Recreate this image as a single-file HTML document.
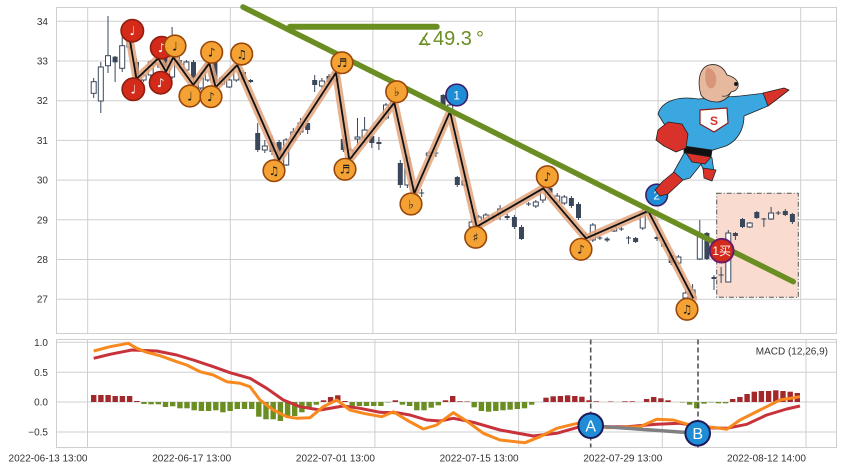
<!DOCTYPE html>
<html><head><meta charset="utf-8"><style>
html,body{margin:0;padding:0;background:#fff;}
svg{display:block;font-family:"Liberation Sans","DejaVu Sans","Noto Sans CJK SC",sans-serif;}
</style></head><body>
<svg width="844" height="471" viewBox="0 0 844 471" xmlns="http://www.w3.org/2000/svg">
<rect width="844" height="471" fill="#fff"/>
<!-- MAIN GRID -->
<g stroke="#cfcfcf" stroke-width="1" fill="none">
<path d="M56 21.3H837M56 61H837M56 100.7H837M56 140.4H837M56 180.1H837M56 219.8H837M56 259.5H837M56 299.2H837"/>
<path d="M87.7 7V333.3M230.3 7V333.3M372.9 7V333.3M515.5 7V333.3M658.1 7V333.3M800.7 7V333.3"/>
<rect x="56.5" y="7.5" width="780" height="326"/>
</g>
<!-- MACD GRID -->
<g stroke="#cfcfcf" stroke-width="1" fill="none">
<path d="M56 342.3H836.7M56 372.3H836.7M56 402H836.7M56 432H836.7"/>
<path d="M87.5 339.3V447.7M231.2 339.3V447.7M374.9 339.3V447.7M518.6 339.3V447.7M662.3 339.3V447.7M806 339.3V447.7"/>
<rect x="56.5" y="339.5" width="780" height="108"/>
</g>
<!-- Y labels -->
<g font-size="10" fill="#333" text-anchor="end">
<text x="48" y="24.8">34</text><text x="48" y="64.5">33</text><text x="48" y="104.2">32</text><text x="48" y="143.9">31</text><text x="48" y="183.6">30</text><text x="48" y="223.3">29</text><text x="48" y="263">28</text><text x="48" y="302.7">27</text>
<text x="48" y="345.8">1.0</text><text x="48" y="375.8">0.5</text><text x="48" y="405.5">0.0</text><text x="48" y="435.5">−0.5</text>
</g>
<!-- X labels -->
<g font-size="10" fill="#333" text-anchor="end">
<text x="87.5" y="461.5">2022-06-13 13:00</text><text x="231.2" y="461.5">2022-06-17 13:00</text><text x="374.9" y="461.5">2022-07-01 13:00</text><text x="518.6" y="461.5">2022-07-15 13:00</text><text x="662.3" y="461.5">2022-07-29 13:00</text><text x="806" y="461.5">2022-08-12 14:00</text>
</g>
<!-- pink rect -->
<rect x="716.7" y="193.3" width="81.6" height="104" fill="#f9dccf" stroke="#555" stroke-width="1" stroke-dasharray="5,2,1,2"/>
<!-- wicks -->
<path fill="none" stroke="#3a475b" stroke-width="1" d="M93.7 78V98 M100.8 62V113 M108 16V73 M115.1 56V82 M122.2 37V72 M129.4 40V50 M136.5 58V79 M143.6 72V82 M150.7 60V78 M157.9 58V68 M165 55V72 M172.1 27V79 M179.3 57V68 M186.4 60V72 M193.5 60V85 M200.7 72V90 M207.8 63V82 M214.9 60V87 M222 76V86 M229.2 75V88 M236.3 65V82 M243.4 70V82 M250.6 79V83 M257.7 123V152 M264.8 140V153 M272 135V155 M279.1 140V160 M286.2 138V166 M293.3 128V142 M300.5 118V135 M307.6 120V134 M314.7 75V92 M321.9 78V88 M329 74V84 M336.1 72V82 M343.3 135V152 M350.4 148V160 M357.5 118V145 M364.6 117V143 M371.8 133V148 M378.9 137V150 M386 103V120 M393.2 99V108 M400.3 160V188 M407.4 155V188 M414.6 186V195 M421.7 189V197 M428.8 151V157 M435.9 148V157 M443.1 94V110 M450.2 100V113 M457.3 176V187 M464.5 179V187 M471.6 220V229 M478.7 215V229 M485.9 213V222 M493 214V221 M500.1 205V220 M507.2 214V220 M514.4 215V229 M521.5 225V240 M528.6 202V206 M535.8 200V208 M542.9 188V203 M550 185V195 M557.2 193V204 M564.3 195V205 M571.4 196V208 M578.5 202V220 M585.7 232V238 M592.8 223V242 M599.9 236V240 M607.1 237V242 M614.2 226V232 M621.3 227V231 M628.5 236V244 M635.6 237V243 M642.7 207V230 M649.8 209V214 M657 235V241 M664.1 243V247 M671.2 253V265 M678.4 255V265 M685.5 290V300 M692.6 284V300 M699.8 220V260 M706.9 232V260 M714 275V290 M721.1 267V283 M728.3 230V282 M735.4 232V240 M742.5 218V228 M749.7 222V228 M756.8 211V219 M763.9 218V227 M771.1 207V220 M778.2 211V215 M785.3 209V216 M792.4 213V224"/>
<!-- hollow bodies -->
<g fill="#fff" stroke="#3a475b" stroke-width="1">
<rect x="91.2" y="81.7" width="5" height="11.6"/><rect x="98.3" y="67" width="5" height="34"/><rect x="105.5" y="55.7" width="5" height="10"/><rect x="119.7" y="45.7" width="5" height="22.6"/><rect x="126.9" y="42" width="5" height="5"/><rect x="141.1" y="75" width="5" height="5"/><rect x="148.2" y="62" width="5" height="13"/><rect x="155.4" y="58.3" width="5" height="5.7"/><rect x="169.6" y="57" width="5" height="20"/><rect x="183.9" y="62" width="5" height="8"/><rect x="198.2" y="78" width="5" height="10"/><rect x="205.3" y="64" width="5" height="16"/><rect x="219.5" y="78" width="5" height="6"/><rect x="226.7" y="80" width="5" height="7"/><rect x="233.8" y="67" width="5" height="13"/><rect x="262.3" y="146" width="5" height="4"/><rect x="283.7" y="140" width="5" height="25"/><rect x="290.8" y="132" width="5" height="8"/><rect x="298" y="123" width="5" height="9"/><rect x="319.4" y="81" width="5" height="5"/><rect x="333.6" y="73" width="5" height="7"/><rect x="347.9" y="150" width="5" height="8"/><rect x="355" y="137" width="5" height="2"/><rect x="362.1" y="130" width="5" height="8"/><rect x="383.5" y="105" width="5" height="13"/><rect x="390.7" y="100" width="5" height="6"/><rect x="404.9" y="158" width="5" height="27"/><rect x="412.1" y="190" width="5" height="3"/><rect x="426.3" y="153" width="5" height="2.5"/><rect x="447.7" y="105" width="5" height="6"/><rect x="462" y="181" width="5" height="4"/><rect x="469.1" y="222" width="5" height="5"/><rect x="476.2" y="217" width="5" height="10"/><rect x="483.4" y="215" width="5" height="5"/><rect x="497.6" y="209" width="5" height="4"/><rect x="533.3" y="202" width="5" height="4"/><rect x="540.4" y="190" width="5" height="10"/><rect x="554.7" y="196" width="5" height="6"/><rect x="561.8" y="197" width="5" height="6"/><rect x="590.3" y="225" width="5" height="15"/><rect x="611.7" y="227" width="5" height="4"/><rect x="640.2" y="212" width="5" height="16"/><rect x="647.3" y="211" width="5" height="2.5"/><rect x="661.6" y="244" width="5" height="2"/><rect x="675.9" y="257" width="5" height="6"/><rect x="683" y="293" width="5" height="5"/><rect x="690.1" y="290" width="5" height="8"/><rect x="697.3" y="237" width="5" height="22"/><rect x="725.8" y="233" width="5" height="49"/><rect x="747.2" y="223" width="5" height="4"/><rect x="768.6" y="213" width="5" height="6"/>
</g>
<!-- filled bodies -->
<g fill="#3a475b">
<rect x="112.6" y="56.7" width="5" height="5.6"/><rect x="134" y="62" width="5" height="15"/><rect x="162.5" y="58" width="5" height="9"/><rect x="176.8" y="60" width="5" height="5"/><rect x="191" y="62" width="5" height="16"/><rect x="212.4" y="62" width="5" height="21"/><rect x="240.9" y="72" width="5" height="8"/><rect x="248.1" y="80" width="5" height="2"/><rect x="255.2" y="133" width="5" height="17"/><rect x="269.5" y="142" width="5" height="10"/><rect x="276.6" y="142" width="5" height="15"/><rect x="305.1" y="123" width="5" height="7"/><rect x="312.2" y="80" width="5" height="5"/><rect x="326.5" y="76" width="5" height="6"/><rect x="340.8" y="139" width="5" height="11"/><rect x="369.3" y="136" width="5" height="7"/><rect x="376.4" y="142" width="5" height="2"/><rect x="397.8" y="163" width="5" height="22"/><rect x="440.6" y="95" width="5" height="13"/><rect x="454.8" y="177" width="5" height="8"/><rect x="504.7" y="216" width="5" height="2"/><rect x="511.9" y="217" width="5" height="10"/><rect x="519" y="227" width="5" height="12"/><rect x="547.5" y="188" width="5" height="5"/><rect x="568.9" y="198" width="5" height="8"/><rect x="576" y="204" width="5" height="14"/><rect x="604.6" y="238.5" width="5" height="2"/><rect x="633.1" y="238" width="5" height="4"/><rect x="654.5" y="237" width="5" height="2"/><rect x="668.7" y="255" width="5" height="8"/><rect x="704.4" y="233" width="5" height="26"/><rect x="711.5" y="277" width="5" height="2"/><rect x="732.9" y="233" width="5" height="3"/><rect x="740" y="219" width="5" height="8"/><rect x="754.3" y="212" width="5" height="6"/><rect x="782.8" y="211" width="5" height="4"/><rect x="789.9" y="214" width="5" height="8"/>
<rect x="419.2" y="192.5" width="5" height="1"/><rect x="433.4" y="152.5" width="5" height="1"/><rect x="490.5" y="217.5" width="5" height="1"/><rect x="526.1" y="203.5" width="5" height="1"/><rect x="583.2" y="234.5" width="5" height="1"/><rect x="597.4" y="237.5" width="5" height="1"/><rect x="618.8" y="228.5" width="5" height="1"/><rect x="626" y="237.5" width="5" height="1"/><rect x="718.6" y="274.5" width="5" height="1"/><rect x="761.4" y="218.5" width="5" height="1"/><rect x="775.7" y="212.5" width="5" height="1"/>
</g>
<!-- zigzag -->
<polyline fill="none" stroke="#e2a57c" stroke-opacity="0.85" stroke-width="8" stroke-linejoin="round" stroke-linecap="round" points="130,41 136.5,79 158.3,58.3 166,71.7 173.3,57.3 193.3,85 209.3,63.3 215.7,87.3 237.3,65 279,160 336,72.7 349.3,160 394.3,102.7 414.3,193.3 450,111.7 476.7,226.7 543.3,188.3 586,238.3 648.3,211 693.3,298.3"/>
<polyline fill="none" stroke="#111" stroke-width="1.8" stroke-linejoin="round" points="130,41 136.5,79 158.3,58.3 166,71.7 173.3,57.3 193.3,85 209.3,63.3 215.7,87.3 237.3,65 279,160 336,72.7 349.3,160 394.3,102.7 414.3,193.3 450,111.7 476.7,226.7 543.3,188.3 586,238.3 648.3,211 693.3,298.3"/>
<!-- green trend -->
<line x1="243" y1="7" x2="793.3" y2="281.7" stroke="#6b8e23" stroke-width="5.5" stroke-linecap="round"/>
<line x1="290" y1="26.7" x2="436.7" y2="26.7" stroke="#6b8e23" stroke-width="6" stroke-linecap="round"/>
<text y="45" font-size="20" fill="#6b8e23"><tspan x="417" font-family="DejaVu Sans,sans-serif" font-size="17">∡</tspan><tspan x="433">49.3</tspan><tspan x="476">°</tspan></text>
<!-- markers -->
<g stroke-width="1.6" font-family="DejaVu Sans,sans-serif" font-size="12" text-anchor="middle">
<g fill="#d42a1a" stroke="#8e1d10">
<circle cx="132.3" cy="30.7" r="11.2"/><circle cx="133.3" cy="89.3" r="11.2"/><circle cx="161.7" cy="47.7" r="11.2"/><circle cx="160.7" cy="82.7" r="11.2"/>
</g>
<g fill="#fff" stroke="none">
<text x="132.3" y="35">♩</text><text x="133.3" y="93.6">♩</text><text x="161.7" y="52">♪</text><text x="160.7" y="87">♪</text>
</g>
<g fill="#f5a234" stroke="#9a4609">
<circle cx="175" cy="46" r="10.8"/><circle cx="190" cy="96" r="10.8"/><circle cx="211.7" cy="52.3" r="10.8"/><circle cx="211" cy="96.7" r="10.8"/><circle cx="241.7" cy="54" r="10.8"/><circle cx="274" cy="170.7" r="10.8"/><circle cx="342" cy="62.7" r="10.8"/><circle cx="345" cy="169.3" r="10.8"/><circle cx="396.7" cy="91.7" r="10.8"/><circle cx="411" cy="204" r="10.8"/><circle cx="475.7" cy="237.3" r="10.8"/><circle cx="547.3" cy="176.7" r="10.8"/><circle cx="581" cy="249.3" r="10.8"/><circle cx="687" cy="309.3" r="10.8"/>
</g>
<g fill="#1a1a1a" stroke="none">
<text x="175" y="50.3">♩</text><text x="190" y="100.3">♩</text><text x="211.7" y="56.6">♪</text><text x="211" y="101">♪</text><text x="241.7" y="58.3">♫</text><text x="274" y="175">♫</text><text x="342" y="67">♬</text><text x="345" y="173.6">♬</text><text x="396.7" y="96">♭</text><text x="411" y="208.3">♭</text><text x="475.7" y="241.6">♯</text><text x="547.3" y="181">♪</text><text x="581" y="253.6">♪</text><text x="687" y="313.6">♫</text>
</g>
<g fill="#1f8dd6" stroke="#3b1e6e">
<circle cx="456.7" cy="95" r="10.8"/><circle cx="656.7" cy="195" r="10.8"/>
</g>
<g fill="#fff" stroke="none" font-family="Liberation Sans,sans-serif" font-size="12">
<text x="456.7" y="99.3">1</text><text x="656.7" y="199.3">2</text>
</g>
<circle cx="721.7" cy="250.7" r="11.8" fill="#d42a1a" stroke="#6a1b6a" stroke-width="2"/>
<text x="721.7" y="255.2" fill="#fff" stroke="none" font-family="Liberation Sans,Noto Sans CJK SC,sans-serif" font-size="12">1买</text>
</g>
<!-- dog -->
<g stroke="#222" stroke-width="0.8" stroke-linejoin="round">
<path d="M700 150 L712 158 L714 172 L706 176 L700 162 Z" fill="#3aa7e0"/>
<path d="M703 168 L716 170 L712 181 L704 178 Z" fill="#d8322a"/>
<path d="M686 150 L706 158 L690 178 L676 182 L672 175 Z" fill="#3aa7e0"/>
<path d="M674 172 L683 180 L668 194 L660 196 L655 190 L662 182 Z" fill="#d8322a"/>
<path d="M658 114 C662 100 680 96 698 99 L740 96 L766 93 L768 106 L744 116 C744 130 737 141 726 146 L710 151 L688 150 C676 142 666 128 658 114 Z" fill="#3aa7e0"/>
<path d="M684 146 L712 150 L711 157 L684 153 Z" fill="#111"/>
<path d="M686 153 L711 157 L705 164 L692 162 Z" fill="#d8322a"/>
<path d="M763 93 L784 88 L789 90 L776 100 L768 106 Z" fill="#d8322a"/>
<path d="M658 130 L668 122 L682 124 L688 134 L686 148 L676 152 L664 146 L656 140 Z" fill="#d8322a"/>
<path d="M701 95 C697 82 699 68 709 65 C718 63 724 68 727 75 C731 76 736 78 738 83 C739 88 736 91 731 92 C729 97 724 101 718 102 C711 102 704 100 701 95 Z" fill="#e6b89e"/>
<path d="M707 68 C713 68 717 74 716 82 C715 88 711 90 708 87 C705 83 704 74 707 68 Z" fill="#d9957a" stroke="none"/>
<circle cx="736" cy="84" r="1.6" fill="#111"/>
<path d="M722 96 C726 97 729 95 731 92" fill="none" stroke="#333" stroke-width="0.8"/>
<path d="M700 110 L727 108 L728 123 L714 132 L700 124 Z" fill="#fff" stroke="#8b1a1a" stroke-width="1.2"/>
<text x="714" y="125" font-size="12" font-weight="bold" fill="#d8322a" stroke="none" text-anchor="middle">S</text>
</g>
<!-- MACD bars red -->
<g fill="#a3282b">
<rect x="91.0" y="395" width="5.4" height="7"/><rect x="98.2" y="395" width="5.4" height="7"/><rect x="105.4" y="395" width="5.4" height="7"/><rect x="112.5" y="396" width="5.4" height="6"/><rect x="119.7" y="396" width="5.4" height="6"/><rect x="126.9" y="396" width="5.4" height="6"/><rect x="134.1" y="401" width="5.4" height="1"/><rect x="320.8" y="400.3" width="5.4" height="1.7"/><rect x="327.9" y="397" width="5.4" height="5"/><rect x="335.1" y="395.3" width="5.4" height="6.7"/><rect x="342.3" y="401" width="5.4" height="1"/><rect x="392.6" y="400.3" width="5.4" height="1.7"/><rect x="442.8" y="400.3" width="5.4" height="1.7"/><rect x="450.0" y="396" width="5.4" height="6"/><rect x="457.2" y="401.3" width="5.4" height="0.7"/><rect x="464.4" y="401.5" width="5.4" height="0.5"/><rect x="543.3" y="397.7" width="5.4" height="4.3"/><rect x="550.5" y="396.3" width="5.4" height="5.7"/><rect x="557.7" y="396" width="5.4" height="6"/><rect x="564.9" y="395.3" width="5.4" height="6.7"/><rect x="572.1" y="396" width="5.4" height="6"/><rect x="579.2" y="396.7" width="5.4" height="5.3"/><rect x="586.4" y="400.3" width="5.4" height="1.7"/><rect x="593.6" y="401.3" width="5.4" height="0.7"/><rect x="608.0" y="401.5" width="5.4" height="0.5"/><rect x="622.3" y="401.3" width="5.4" height="0.7"/><rect x="629.5" y="401.3" width="5.4" height="0.7"/><rect x="643.9" y="399" width="5.4" height="3"/><rect x="651.0" y="397" width="5.4" height="5"/><rect x="658.2" y="398.3" width="5.4" height="3.7"/><rect x="665.4" y="400.3" width="5.4" height="1.7"/><rect x="730.0" y="399" width="5.4" height="3"/><rect x="737.2" y="397" width="5.4" height="5"/><rect x="744.4" y="394" width="5.4" height="8"/><rect x="751.6" y="391.7" width="5.4" height="10.3"/><rect x="758.7" y="391" width="5.4" height="11"/><rect x="765.9" y="391" width="5.4" height="11"/><rect x="773.1" y="390.3" width="5.4" height="11.7"/><rect x="780.3" y="391" width="5.4" height="11"/><rect x="787.5" y="391.7" width="5.4" height="10.3"/><rect x="794.6" y="393" width="5.4" height="9"/>
</g>
<!-- MACD bars green -->
<g fill="#6b8e23">
<rect x="141.3" y="402" width="5.4" height="2"/><rect x="148.4" y="402" width="5.4" height="2.3"/><rect x="155.6" y="402" width="5.4" height="2.3"/><rect x="162.8" y="402" width="5.4" height="5"/><rect x="170.0" y="402" width="5.4" height="4.3"/><rect x="177.2" y="402" width="5.4" height="6.3"/><rect x="184.3" y="402" width="5.4" height="6.3"/><rect x="191.5" y="402" width="5.4" height="8.3"/><rect x="198.7" y="402" width="5.4" height="9"/><rect x="205.9" y="402" width="5.4" height="9"/><rect x="213.1" y="402" width="5.4" height="8.3"/><rect x="220.2" y="402" width="5.4" height="10.3"/><rect x="227.4" y="402" width="5.4" height="9"/><rect x="234.6" y="402" width="5.4" height="7"/><rect x="241.8" y="402" width="5.4" height="7"/><rect x="249.0" y="402" width="5.4" height="7"/><rect x="256.1" y="402" width="5.4" height="14.7"/><rect x="263.3" y="402" width="5.4" height="17.3"/><rect x="270.5" y="402" width="5.4" height="17.3"/><rect x="277.7" y="402" width="5.4" height="19"/><rect x="284.9" y="402" width="5.4" height="14.7"/><rect x="292.0" y="402" width="5.4" height="14"/><rect x="299.2" y="402" width="5.4" height="10.3"/><rect x="306.4" y="402" width="5.4" height="7"/><rect x="313.6" y="402" width="5.4" height="2.7"/><rect x="349.5" y="402" width="5.4" height="4"/><rect x="356.7" y="402" width="5.4" height="4"/><rect x="363.8" y="402" width="5.4" height="4"/><rect x="371.0" y="402" width="5.4" height="4"/><rect x="378.2" y="402" width="5.4" height="4"/><rect x="385.4" y="402" width="5.4" height="0.5"/><rect x="399.7" y="402" width="5.4" height="2.7"/><rect x="406.9" y="402" width="5.4" height="4"/><rect x="414.1" y="402" width="5.4" height="8.3"/><rect x="421.3" y="402" width="5.4" height="8.3"/><rect x="428.5" y="402" width="5.4" height="5.7"/><rect x="435.6" y="402" width="5.4" height="3.3"/><rect x="471.5" y="402" width="5.4" height="5.3"/><rect x="478.7" y="402" width="5.4" height="9"/><rect x="485.9" y="402" width="5.4" height="9.7"/><rect x="493.1" y="402" width="5.4" height="9"/><rect x="500.3" y="402" width="5.4" height="8.3"/><rect x="507.4" y="402" width="5.4" height="7.7"/><rect x="514.6" y="402" width="5.4" height="7"/><rect x="521.8" y="402" width="5.4" height="6.3"/><rect x="529.0" y="402" width="5.4" height="2.7"/><rect x="679.8" y="402" width="5.4" height="0.5"/><rect x="686.9" y="402" width="5.4" height="2.7"/><rect x="694.1" y="402" width="5.4" height="6.3"/><rect x="701.3" y="402" width="5.4" height="1.7"/><rect x="708.5" y="402" width="5.4" height="0.5"/><rect x="715.7" y="402" width="5.4" height="1.3"/><rect x="722.8" y="402" width="5.4" height="1.3"/>
</g>
<!-- MACD lines -->
<polyline fill="none" stroke="#c8323a" stroke-width="3" stroke-linejoin="round" points="93.7,358.3 110,354.3 131.7,350 156.7,351 176.7,355 193.3,360 213.3,366.7 230,372.7 250,378.3 266.7,388.3 283.3,400 300,406.7 320,410 343.3,406 360,408.3 380,412.3 396.7,412.7 410,415 426.7,420 440,421 453.3,418.3 473.3,422.3 500,430 533.3,436 556.7,433.3 580,426.7 626.7,426.7 656.7,424.3 680,423.3 706.7,427.7 726.7,428.3 746.7,424.3 766.7,415 786.7,409 800,406"/>
<polyline fill="none" stroke="#f7891f" stroke-width="3" stroke-linejoin="round" points="93.7,351 110,346.7 128.3,343.3 136.7,348.3 146.7,352.3 160,355.7 176.7,361.7 186.7,365 200,371.7 213.3,375 226.7,381.7 240,383.3 250,386.7 260,400 273.3,410 286.7,416.7 296.7,418.3 310,417.7 323.3,406.7 336.7,400 350,410 363.3,413.3 381.7,416.7 393.3,411.7 406.7,420 423.3,429 436.7,425 440,422.3 453.3,412.7 466.7,421 483.3,433.3 500,440 525,442.7 540,436.7 556.7,428.3 580,422.7 590,424 606.7,427.7 640,426.7 656.7,419.3 673.3,420 690,425 716.7,427.7 726.7,429.3 740,420 760,410 780,400 800,396.7"/>
<!-- dashed verticals -->
<g stroke="#555" stroke-width="1.6" stroke-dasharray="5,3">
<line x1="590.7" y1="339.5" x2="590.7" y2="447.5"/><line x1="698" y1="339.5" x2="698" y2="447.5"/>
</g>
<line x1="590.7" y1="425.7" x2="697.7" y2="433.3" stroke="#808080" stroke-width="3.5"/>
<circle cx="590.7" cy="425.7" r="12.3" fill="#1f8dd6" stroke="#1c1a5a" stroke-width="2"/>
<circle cx="697.7" cy="433.3" r="12.3" fill="#1f8dd6" stroke="#1c1a5a" stroke-width="2"/>
<g fill="#fff" font-size="16" text-anchor="middle">
<text x="590.7" y="431.5">A</text><text x="697.7" y="439">B</text>
</g>
<text x="828" y="354.5" font-size="10" fill="#333" text-anchor="end">MACD (12,26,9)</text>
</svg>
</body></html>
